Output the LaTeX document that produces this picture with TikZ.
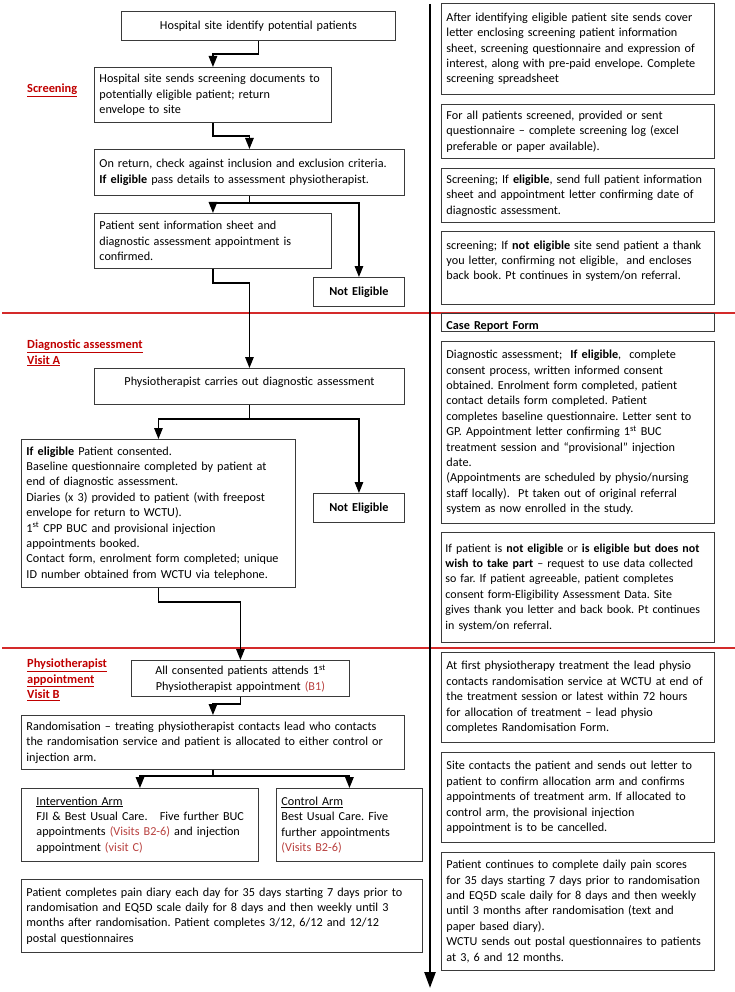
\documentclass[tikz,border=0pt]{standalone}
\usepackage{fontspec}
\setmainfont{Carlito}
\usetikzlibrary{arrows.meta}

\definecolor{boxgray}{HTML}{3A3A3A}
\definecolor{phasered}{HTML}{C00000}
\definecolor{linered}{HTML}{D42A2A}
\definecolor{visitred}{HTML}{B8403E}

\begin{document}
\frenchspacing
\begin{tikzpicture}[x=1pt, y=-1pt,
    box/.style={draw=boxgray, line width=0.9pt, anchor=north west, inner xsep=5pt, inner ysep=0pt,
        align=left, font=\fontsize{12.2}{15.4}\selectfont},
    cbox/.style={box, align=center},
    phase/.style={anchor=west, inner sep=0pt, align=left, text=phasered,
        font=\fontsize{12.4}{15.4}\selectfont\bfseries},
    line/.style={line width=1.3pt},
    flow/.style={line, -{Triangle[length=11pt, width=8.5pt]}},
    timeline/.style={line width=2.4pt, -{Triangle[length=16pt, width=11pt]}},
    divider/.style={linered, line width=1.4pt}]
    \useasboundingbox (0,0) rectangle (735,992);

    % Phase dividers
    \coordinate (d1w) at (2,313);
    \coordinate (d1e) at (735,313);
    \coordinate (d2w) at (2,648);
    \coordinate (d2e) at (735,648);
    \draw[divider] (d1w) -- (d1e);
    \draw[divider] (d2w) -- (d2e);

    % Time axis
    \coordinate (tltop) at (430,4);
    \coordinate (tlbot) at (430,988);
    \draw[timeline] (tltop) -- (tlbot);

    % Phase headings
    \node[phase] (scr) at (27,90) {\underline{Screening}};
    \node[phase] (visa) at (27,353) {\underline{Diagnostic assessment}\\\underline{Visit A}};
    \node[phase] (visb) at (27,680) {\underline{Physiotherapist}\\\underline{appointment}\\\underline{Visit B}};

    % Screening
    \node[cbox, minimum width=274, text width=264pt, minimum height=29] (hosp) at (121,11)
        {Hospital site identify potential patients};
    \node[box, minimum width=237, text width=227pt, minimum height=55] (send) at (94,67)
        {Hospital site sends screening documents to\\potentially eligible patient; return\\envelope to site};
    \node[box, minimum width=310, text width=300pt, minimum height=46] (check) at (94,149)
        {On return, check against inclusion and exclusion criteria.\\\textbf{If eligible} pass details to assessment physiotherapist.};
    \node[box, minimum width=237, text width=227pt, minimum height=55] (info) at (94,213)
        {Patient sent information sheet and\\diagnostic assessment appointment is\\confirmed.};
    \node[cbox, minimum width=91, text width=81pt, minimum height=29] (ne1) at (313,277)
        {\textbf{Not Eligible}};

    % Diagnostic assessment
    \node[cbox, minimum width=310, text width=300pt, minimum height=36, text height=9pt, text depth=11pt] (diag) at (94,368)
        {Physiotherapist carries out diagnostic assessment};
    \node[box, minimum width=274, text width=264pt, minimum height=148] (elig) at (21,439)
        {\textbf{If eligible} Patient consented.\\Baseline questionnaire completed by patient at\\end of diagnostic assessment.\\Diaries (x 3) provided to patient (with freepost\\envelope for return to WCTU).\\1\textsuperscript{st} CPP BUC and provisional injection\\appointments booked.\\Contact form, enrolment form completed; unique\\ID number obtained from WCTU via telephone.};
    \node[cbox, minimum width=91, text width=81pt, minimum height=29] (ne2) at (313,493)
        {\textbf{Not Eligible}};

    % Physiotherapist appointment
    \node[cbox, minimum width=218, text width=208pt, minimum height=36] (first) at (131,660)
        {All consented patients attends 1\textsuperscript{st}\\Physiotherapist appointment \textcolor{visitred}{(B1)}};
    \node[box, minimum width=383, text width=373pt, minimum height=54] (rand) at (21,715)
        {Randomisation – treating physiotherapist contacts lead who contacts\\the randomisation service and patient is allocated to either control or\\injection arm.};
    \node[box, minimum width=237, text width=227pt, minimum height=73] (interv) at (21,788)
        {\leftskip=10pt \underline{Intervention Arm}\\FJI \& Best Usual Care.\ \ \ Five further BUC\\appointments \textcolor{visitred}{(Visits B2-6)} and injection\\appointment \textcolor{visitred}{(visit C)}\par};
    \node[box, minimum width=146, text width=136pt, minimum height=73] (ctrl) at (276,788)
        {\underline{Control Arm}\\Best Usual Care. Five\\further appointments\\\textcolor{visitred}{(Visits B2-6)}};
    \node[box, minimum width=401, text width=391pt, minimum height=73] (diary) at (21,879)
        {Patient completes pain diary each day for 35 days starting 7 days prior to\\randomisation and EQ5D scale daily for 8 days and then weekly until 3\\months after randomisation. Patient completes 3/12, 6/12 and 12/12\\postal questionnaires};

    % Site actions (right column)
    \node[box, minimum width=273, text width=263pt, minimum height=91] (r1) at (441,3)
        {After identifying eligible patient site sends cover\\letter enclosing screening patient information\\sheet, screening questionnaire and expression of\\interest, along with pre-paid envelope. Complete\\screening spreadsheet};
    \node[box, minimum width=273, text width=263pt, minimum height=54] (r2) at (441,104)
        {For all patients screened, provided or sent\\questionnaire – complete screening log (excel\\preferable or paper available).};
    \node[box, minimum width=273, text width=263pt, minimum height=54] (r3) at (441,168)
        {Screening; If \textbf{eligible}, send full patient information\\sheet and appointment letter confirming date of\\diagnostic assessment.};
    \node[box, minimum width=273, text width=263pt, minimum height=73] (r4) at (441,231)
        {screening; If \textbf{not eligible} site send patient a thank\\you letter, confirming not eligible,\ \ and encloses\\back book. Pt continues in system/on referral.\\\mbox{}};
    \node[box, minimum width=273, text width=263pt, minimum height=18, text height=15pt, text depth=0pt] (crf) at (441,313)
        {\textbf{Case Report Form}};
    \node[box, minimum width=273, text width=263pt, minimum height=182] (r5) at (441,341)
        {Diagnostic assessment;\ \ \textbf{If eligible},\ \ complete\\consent process, written informed consent\\obtained. Enrolment form completed, patient\\contact details form completed. Patient\\completes baseline questionnaire. Letter sent to\\GP. Appointment letter confirming 1\textsuperscript{st} BUC\\treatment session and “provisional” injection\\date.\\(Appointments are scheduled by physio/nursing\\staff locally).\ \ Pt taken out of original referral\\system as now enrolled in the study.};
    \node[box, inner xsep=4pt, minimum width=273, text width=265pt, minimum height=110, font=\fontsize{12}{15.4}\selectfont] (r6) at (441,532)
        {If patient is \textbf{not eligible} or \textbf{is eligible but does not}\\\textbf{wish to take part} – request to use data collected\\so far. If patient agreeable, patient completes\\consent form-Eligibility Assessment Data. Site\\gives thank you letter and back book. Pt continues\\in system/on referral.};
    \node[box, minimum width=273, text width=263pt, minimum height=90] (r7) at (441,652)
        {At first physiotherapy treatment the lead physio\\contacts randomisation service at WCTU at end of\\the treatment session or latest within 72 hours\\for allocation of treatment – lead physio\\completes Randomisation Form.};
    \node[box, minimum width=273, text width=263pt, minimum height=90] (r8) at (441,752)
        {Site contacts the patient and sends out letter to\\patient to confirm allocation arm and confirms\\appointments of treatment arm. If allocated to\\control arm, the provisional injection\\appointment is to be cancelled.};
    \node[box, minimum width=273, text width=263pt, minimum height=118] (r9) at (441,852)
        {Patient continues to complete daily pain scores\\for 35 days starting 7 days prior to randomisation\\and EQ5D scale daily for 8 days and then weekly\\until 3 months after randomisation (text and\\paper based diary).\\WCTU sends out postal questionnaires to patients\\at 3, 6 and 12 months.};

    % Flow between the steps
    \draw[flow] (hosp.south) -- ++(0,13) -| (send.north);
    \draw[flow] (send.south) -- ++(0,13) -| (check.north);
    \draw[line] (check.south) -- ++(0,7) coordinate (split1);
    \draw[flow] (split1) -| (info.north);
    \draw[flow] (split1) -| (ne1.north);
    \draw[flow] (info.south) -- ++(0,14) -| (diag.north);
    \draw[line] (diag.south) -- ++(0,14) coordinate (split2);
    \draw[flow] (split2) -| (elig.north);
    \draw[flow] (split2) -| (ne2.north);
    \draw[flow] (elig.south) -- ++(0,14) -| (first.north);
    \draw[flow] (first.south) -- ++(0,7) -| (rand.north);
    \draw[line] (rand.south) -- ++(0,6) coordinate (split3);
    \draw[flow] (split3) -| (interv.north);
    \draw[flow] (split3) -| (ctrl.north);
\end{tikzpicture}
\end{document}
